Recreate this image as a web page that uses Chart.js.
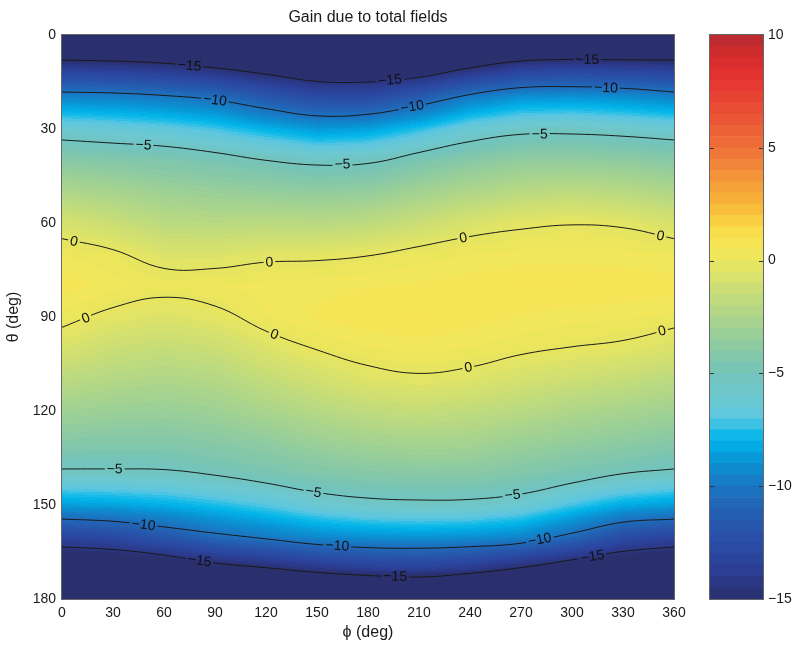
<!DOCTYPE html>
<html>
<head>
<meta charset="utf-8">
<script src="https://cdn.jsdelivr.net/npm/chart.js@4.4.1/dist/chart.umd.min.js"></script>
<style>
  html, body { margin: 0; padding: 0; background: #fff; }
  #wrap { position: relative; width: 800px; height: 646px; }
  #main { position: absolute; left: 0; top: 0; }
  #bar { position: absolute; left: 700px; top: 0; }
</style>
</head>
<body>
<div id="wrap">
  <canvas id="main" width="800" height="646"></canvas>
  <canvas id="bar" width="100" height="646"></canvas>
</div>
<script>
// sample points
const phi = [0, 30, 60, 90, 120, 150, 180, 210, 240, 270, 300, 330, 360];
const thetaRows = [0, 10, 20, 30, 40, 50, 60, 70, 80, 90, 100, 110, 120, 130, 140, 150, 160, 170, 180];

// gain (dB), one row per phi value, down the theta rows
const gain = [
  [-20, -14.0, -9.4, -6.1, -4.0, -2.4, -0.8, 0.24, 0.66, 0.18, -0.7, -1.9, -3.0, -4.1, -5.5, -8.6, -13.1, -17.0, -20],
  [-20, -14.2, -9.5, -6.4, -4.2, -2.7, -1.3, 0.06, 0.36, -0.3, -1.3, -2.2, -3.2, -4.2, -5.5, -8.4, -12.7, -16.8, -20],
  [-20, -14.5, -9.8, -6.7, -4.4, -3.1, -1.9, -0.6, 0.12, -0.6, -1.5, -2.4, -3.3, -4.2, -5.4, -8.1, -11.7, -16.4, -20],
  [-20, -15.2, -10.3, -7.2, -4.7, -3.3, -2.0, -0.6, 0.24, -0.3, -1.3, -2.2, -3.1, -4.0, -5.0, -7.6, -10.5, -15.7, -20],
  [-20, -16.0, -11.6, -8.0, -5.0, -3.5, -1.9, -0.4, 0.36, 0.24, -0.6, -1.6, -2.6, -3.7, -4.7, -7.0, -9.8, -15.0, -20],
  [-20, -16.6, -12.6, -8.7, -5.5, -3.6, -2.0, -0.3, 0.42, 0.54, 0.0, -1.0, -2.1, -3.2, -4.3, -6.2, -9.2, -14.2, -20],
  [-20, -16.7, -12.6, -8.5, -5.3, -3.5, -1.8, -0.1, 0.48, 0.72, 0.24, -0.5, -1.7, -2.9, -4.1, -5.7, -8.9, -13.6, -20],
  [-20, -16.3, -11.4, -7.5, -4.6, -2.9, -1.3, 0.12, 0.54, 0.78, 0.36, -0.3, -1.5, -2.7, -4.0, -5.5, -8.8, -13.4, -20],
  [-20, -15.2, -9.7, -6.3, -4.0, -2.4, -0.7, 0.24, 0.66, 0.66, 0.24, -0.5, -1.7, -2.8, -4.0, -5.6, -8.9, -13.9, -20],
  [-20, -14.0, -8.9, -5.6, -3.6, -2.0, -0.3, 0.36, 0.78, 0.48, 0.06, -0.9, -2.0, -3.2, -4.3, -6.1, -9.3, -15.0, -20],
  [-20, -13.7, -8.8, -5.5, -3.6, -1.8, -0.1, 0.36, 0.78, 0.36, -0.1, -1.2, -2.4, -3.5, -4.7, -7.2, -10.6, -16.0, -20],
  [-20, -13.9, -9.0, -5.8, -3.7, -2.0, -0.3, 0.36, 0.72, 0.3, -0.3, -1.5, -2.7, -3.8, -5.0, -8.2, -12.4, -16.7, -20],
  [-20, -14.0, -9.4, -6.1, -4.0, -2.4, -0.8, 0.24, 0.66, 0.18, -0.7, -1.9, -3.0, -4.1, -5.5, -8.6, -13.1, -17.0, -20]
];

// contour lines: theta at each phi
const c15Top = [8, 8.3, 9, 10.5, 12.5, 14.8, 15, 13.5, 10.5, 8.3, 7.8, 7.9, 8];
const c10Top = [18.2, 18.5, 19.3, 20.7, 23.5, 25.8, 25.3, 22.5, 19, 16.8, 16.5, 17, 18.2];
const c5Top = [33.5, 34.5, 35.5, 37.5, 40, 41.5, 41, 37.5, 34, 31.7, 31.6, 32.3, 33.5];
const c0Top = [65, 68.5, 74.5, 74.5, 72.5, 72, 70.5, 67.5, 64.3, 62, 60.6, 61.5, 65];
const c0Bot = [93.3, 87, 83.7, 86.5, 94.5, 100.5, 105.5, 108, 106, 102, 99.5, 97.5, 93.5];
const c5Bot = [138.5, 138.5, 138.7, 140.5, 143, 146, 147.8, 148.4, 148.2, 146.5, 143, 140, 138.5];
const c10Bot = [154.5, 155.2, 157, 159, 160.8, 162.6, 163.6, 163.8, 163.3, 162.2, 159, 155.5, 154.5];
const c15Bot = [163.4, 164.2, 166, 168.5, 170, 171.5, 172.5, 173, 171.8, 170, 167.5, 164.8, 163.4];

// where the inline labels sit (phi)
const contours = [
  { level: -15, theta: c15Top, labelPhi: [75, 193, 309] },
  { level: -10, theta: c10Top, labelPhi: [90, 206, 320] },
  { level: -5, theta: c5Top, labelPhi: [48, 165, 281] },
  { level: 0, theta: c0Top, labelPhi: [7, 122, 236, 352] },
  { level: 0, theta: c0Bot, labelPhi: [14, 125, 239, 353] },
  { level: -5, theta: c5Bot, labelPhi: [31, 148, 265] },
  { level: -10, theta: c10Bot, labelPhi: [48, 162, 281] },
  { level: -15, theta: c15Bot, labelPhi: [81, 196, 312] }
];

const cMin = -15, cMax = 10, barStep = 0.5, fieldStep = 0.25;

const cmapStops = [
  [-15, '#2a2f6e'], [-14, '#2b3b8e'], [-13, '#2a47a0'], [-12, '#2852aa'], [-11, '#2262b4'],
  [-10, '#1a76c2'], [-9, '#0a90d2'], [-8, '#00b2e8'], [-7.5, '#1ebee8'], [-7, '#5cc6e0'],
  [-6, '#6ec8cf'], [-5, '#72c3b9'], [-4, '#88c9a6'], [-3, '#a0d193'], [-2, '#b9d982'],
  [-1, '#d2e070'], [0, '#eae65e'], [0.5, '#f4e658'], [1, '#f7e250'], [1.5, '#f8da46'],
  [2, '#f8c43c'], [3, '#f6a838'], [4, '#f28c3a'], [5, '#ee7038'], [6, '#ec5c37'],
  [7, '#e84833'], [8, '#e43430'], [9, '#d62b2c'], [10, '#b42a30']
];
const stopRgb = cmapStops.map(s => [s[0], parseInt(s[1].slice(1, 3), 16), parseInt(s[1].slice(3, 5), 16), parseInt(s[1].slice(5, 7), 16)]);

function colorFor(v) {
  if (v <= stopRgb[0][0]) return stopRgb[0].slice(1);
  for (let i = 1; i < stopRgb.length; i++) {
    if (v <= stopRgb[i][0]) {
      const a = stopRgb[i - 1], b = stopRgb[i];
      const t = (v - a[0]) / (b[0] - a[0]);
      return [a[1] + t * (b[1] - a[1]), a[2] + t * (b[2] - a[2]), a[3] + t * (b[3] - a[3])];
    }
  }
  return stopRgb[stopRgb.length - 1].slice(1);
}

// filled-contour style: colour of the band a value falls in
function bandColor(v, step) {
  if (v < cMin) return colorFor(cMin);
  const lo = Math.floor(v / step) * step;
  return colorFor(Math.min(lo + step / 2, cMax));
}

function gainAt(p, t) {
  let i = p / 30, j = t / 10;
  i = Math.max(0, Math.min(phi.length - 1.0001, i));
  j = Math.max(0, Math.min(thetaRows.length - 1.0001, j));
  const i0 = Math.floor(i), j0 = Math.floor(j);
  const fi = i - i0, fj = j - j0;
  const a = gain[i0][j0], b = gain[i0 + 1][j0], c = gain[i0][j0 + 1], d = gain[i0 + 1][j0 + 1];
  return (a * (1 - fi) + b * fi) * (1 - fj) + (c * (1 - fi) + d * fi) * fj;
}

function thetaOn(line, p) {
  const i = Math.min(phi.length - 2, Math.floor(p / 30));
  const f = (p - phi[i]) / 30;
  return line[i] * (1 - f) + line[i + 1] * f;
}

function buildHeat(chart) {
  const a = chart.chartArea, xs = chart.scales.x, ys = chart.scales.y;
  const w = Math.round(a.right - a.left), h = Math.round(a.bottom - a.top);
  const cv = document.createElement('canvas');
  cv.width = w; cv.height = h;
  const g = cv.getContext('2d');
  const img = g.createImageData(w, h);
  for (let py = 0; py < h; py++) {
    const t = ys.getValueForPixel(a.top + py + 0.5);
    for (let px = 0; px < w; px++) {
      const p = xs.getValueForPixel(a.left + px + 0.5);
      const c = bandColor(gainAt(p, t), fieldStep);
      const k = (py * w + px) * 4;
      img.data[k] = c[0]; img.data[k + 1] = c[1]; img.data[k + 2] = c[2]; img.data[k + 3] = 255;
    }
  }
  g.putImageData(img, 0, 0);
  return cv;
}

const FONT = '"Liberation Sans", Arial, Helvetica, sans-serif';
const minus = v => String(v).replace('-', '\u2212');

const heatPlugin = {
  id: 'heat',
  beforeDatasetsDraw(chart) {
    const a = chart.chartArea;
    if (!chart.$heat) chart.$heat = buildHeat(chart);
    chart.ctx.drawImage(chart.$heat, a.left, a.top);
  },
  afterDatasetsDraw(chart) {
    const ctx = chart.ctx, a = chart.chartArea, xs = chart.scales.x, ys = chart.scales.y;
    ctx.font = '14px ' + FONT;
    contours.forEach(c => {
      c.labelPhi.forEach(p => {
        const px = xs.getPixelForValue(p), py = ys.getPixelForValue(thetaOn(c.theta, p));
        const p1 = Math.max(0, p - 5), p2 = Math.min(360, p + 5);
        const dx = xs.getPixelForValue(p2) - xs.getPixelForValue(p1);
        const dy = ys.getPixelForValue(thetaOn(c.theta, p2)) - ys.getPixelForValue(thetaOn(c.theta, p1));
        const ang = Math.atan2(dy, dx);
        const txt = minus(c.level);
        const tw = ctx.measureText(txt).width;
        // gap in the line behind the label
        ctx.save();
        ctx.translate(px, py);
        ctx.rotate(ang);
        ctx.beginPath();
        ctx.rect(-tw / 2 - 2, -7, tw + 4, 14);
        ctx.setTransform(1, 0, 0, 1, 0, 0);
        ctx.clip();
        ctx.drawImage(chart.$heat, a.left, a.top);
        ctx.restore();
        ctx.save();
        ctx.translate(px, py);
        ctx.rotate(ang);
        ctx.fillStyle = '#111';
        ctx.textAlign = 'center';
        ctx.textBaseline = 'middle';
        ctx.fillText(txt, 0, 0.5);
        ctx.restore();
      });
    });
  },
  afterDraw(chart) {
    const ctx = chart.ctx, a = chart.chartArea;
    ctx.save();
    ctx.strokeStyle = '#666';
    ctx.lineWidth = 1;
    ctx.strokeRect(a.left - 0.5, a.top - 0.5, a.right - a.left + 1, a.bottom - a.top + 1);
    ctx.fillStyle = '#1a1a1a';
    ctx.font = '16px ' + FONT;
    ctx.textAlign = 'center';
    ctx.textBaseline = 'middle';
    ctx.fillText('Gain due to total fields', (a.left + a.right) / 2, 18);
    ctx.restore();
  }
};

new Chart(document.getElementById('main'), {
  type: 'scatter',
  data: {
    datasets: contours.map(c => ({
      data: phi.map((p, i) => ({ x: p, y: c.theta[i] })),
      showLine: true,
      borderColor: '#1a1a1a',
      borderWidth: 1,
      pointRadius: 0,
      tension: 0.4,
      fill: false
    }))
  },
  options: {
    responsive: false,
    animation: false,
    layout: { padding: { top: 35, right: 126, left: 0, bottom: 0 } },
    plugins: { legend: { display: false }, tooltip: { enabled: false } },
    scales: {
      x: {
        type: 'linear', min: 0, max: 360,
        ticks: { stepSize: 30, padding: 6, color: '#1a1a1a', font: { family: FONT, size: 14 } },
        grid: { display: false, drawTicks: false },
        border: { display: false },
        title: { display: true, text: '\u03d5 (deg)', color: '#1a1a1a', font: { family: FONT, size: 16 }, padding: { top: 0, bottom: 3.4 } },
        afterFit: s => { s.height = 47; }
      },
      y: {
        type: 'linear', min: 0, max: 180, reverse: true,
        ticks: { stepSize: 30, padding: 6, color: '#1a1a1a', font: { family: FONT, size: 14 } },
        grid: { display: false, drawTicks: false },
        border: { display: false },
        title: { display: true, text: '\u03b8 (deg)', color: '#1a1a1a', font: { family: FONT, size: 16 }, padding: { top: 4.4, bottom: 0 } },
        afterFit: s => { s.width = 62; }
      }
    }
  },
  plugins: [heatPlugin]
});

// colour bar
const bandLows = [];
for (let v = cMin; v < cMax - 1e-9; v += barStep) bandLows.push(v);

const barFrame = {
  id: 'barFrame',
  afterDraw(chart) {
    const ctx = chart.ctx, a = chart.chartArea, ys = chart.scales.y;
    ctx.save();
    ctx.strokeStyle = '#666';
    ctx.lineWidth = 1;
    ctx.strokeRect(a.left - 0.5, a.top - 0.5, a.right - a.left + 1, a.bottom - a.top + 1);
    ctx.strokeStyle = '#333';
    [-10, -5, 0, 5].forEach(v => {
      const y = Math.round(ys.getPixelForValue(v)) + 0.5;
      ctx.beginPath();
      ctx.moveTo(a.left, y); ctx.lineTo(a.left + 4, y);
      ctx.moveTo(a.right, y); ctx.lineTo(a.right - 4, y);
      ctx.stroke();
    });
    ctx.restore();
  }
};

new Chart(document.getElementById('bar'), {
  type: 'bar',
  data: {
    labels: [''],
    datasets: bandLows.map(lo => {
      const c = colorFor(lo + barStep / 2).map(Math.round);
      return {
        data: [[lo, lo + barStep]],
        backgroundColor: 'rgb(' + c.join(',') + ')',
        borderWidth: 0,
        grouped: false,
        barPercentage: 1,
        categoryPercentage: 1
      };
    })
  },
  options: {
    responsive: false,
    animation: false,
    layout: { padding: { top: 35, bottom: 47, left: 10, right: 0 } },
    plugins: { legend: { display: false }, tooltip: { enabled: false } },
    scales: {
      x: { display: false },
      y: {
        position: 'right', min: -15, max: 10,
        ticks: { stepSize: 5, padding: 5, color: '#1a1a1a', font: { family: FONT, size: 14 }, callback: v => minus(v) },
        grid: { display: false, drawTicks: false },
        border: { display: false },
        afterFit: s => { s.width = 37; }
      }
    }
  },
  plugins: [barFrame]
});
</script>
</body>
</html>
